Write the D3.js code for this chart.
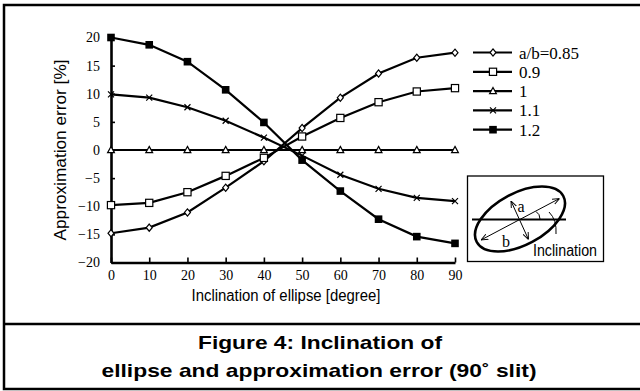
<!DOCTYPE html>
<html>
<head>
<meta charset="utf-8">
<script src="https://cdn.jsdelivr.net/npm/d3@7"></script>
<style>
  html, body { margin: 0; padding: 0; background: #fff; }
  svg { display: block; }
  .serif { font-family: "Liberation Serif", "Times New Roman", serif; }
  .narrow { font-family: "Liberation Sans", Arial, sans-serif; }
  .sans { font-family: "Liberation Sans", Arial, sans-serif; }
</style>
</head>
<body>
<svg id="chart" width="640" height="391"></svg>
<script>
// Inclination angle of the ellipse, degrees
const inclination = [0, 10, 20, 30, 40, 50, 60, 70, 80, 90];

// Approximation error [%] for each axis ratio a/b
const err085 = [-14.8, -13.8, -11.1, -6.7, -2.0, 3.9, 9.3, 13.6, 16.4, 17.3];
const err090 = [-9.8, -9.4, -7.5, -4.6, -1.4, 2.4, 5.7, 8.5, 10.4, 11.0];
const err100 = [0, 0, 0, 0, 0, 0, 0, 0, 0, 0];
const err110 = [9.9, 9.3, 7.6, 5.2, 2.2, -1.0, -4.4, -6.9, -8.5, -9.1];
const err120 = [20.0, 18.7, 15.7, 10.7, 4.9, -1.8, -7.3, -12.3, -15.4, -16.6];

const seriesNames = ["a/b=0.85", "0.9", "1", "1.1", "1.2"];
const seriesValues = [err085, err090, err100, err110, err120];
const seriesMarkers = ["diamond", "openSquare", "triangle", "x", "filledSquare"];

const yTicks = [-20, -15, -10, -5, 0, 5, 10, 15, 20];
const xTicks = [0, 10, 20, 30, 40, 50, 60, 70, 80, 90];

const svg = d3.select("#chart");

// Outer frame and caption divider
svg.append("path")
  .attr("d", "M645,5 H4 V389 H645")
  .attr("fill", "none").attr("stroke", "#000").attr("stroke-width", 2.5);
svg.append("line")
  .attr("x1", 4).attr("x2", 645).attr("y1", 324).attr("y2", 324)
  .attr("stroke", "#000").attr("stroke-width", 2.5);

// Scales
const x = d3.scaleLinear().domain([0, 90]).range([111, 455]);
const y = d3.scaleLinear().domain([-20, 20]).range([262.5, 37.5]);

// Axes with inward ticks
const yAxis = d3.axisLeft(y).tickValues(yTicks).tickSizeInner(-4).tickSizeOuter(0).tickPadding(11);
const xAxis = d3.axisBottom(x).tickValues(xTicks).tickSizeInner(-5).tickSizeOuter(0).tickPadding(8);

const gy = svg.append("g").attr("transform", `translate(${x(0)},0)`).call(yAxis);
const gx = svg.append("g").attr("transform", `translate(0,${y(-20)})`).call(xAxis);
[gx, gy].forEach(g => {
  g.attr("font-family", null).attr("font-size", null).attr("class", "serif");
  g.select(".domain").attr("stroke", "#000").attr("stroke-width", 2.6);
  g.selectAll(".tick line").attr("stroke", "#000").attr("stroke-width", 1.6);
  g.selectAll(".tick text").style("font-size", "14px").attr("fill", "#000");
});

// Axis titles (condensed)
svg.append("text").attr("class", "narrow")
  .attr("x", 286).attr("y", 301)
  .attr("text-anchor", "middle")
  .style("font-size", "16px")
  .attr("textLength", 189).attr("lengthAdjust", "spacingAndGlyphs")
  .text("Inclination of ellipse [degree]");
svg.append("text").attr("class", "narrow")
  .attr("transform", "translate(66,150) rotate(-90)")
  .attr("text-anchor", "middle")
  .style("font-size", "16px")
  .attr("textLength", 181).attr("lengthAdjust", "spacingAndGlyphs")
  .text("Approximation error [%]");

// Marker shapes
function drawMarker(sel, kind) {
  if (kind === "diamond") {
    sel.append("path").attr("d", "M0,-3.6 L3,0 L0,3.6 L-3,0 Z")
      .attr("fill", "#fff").attr("stroke", "#000").attr("stroke-width", 1.2);
  } else if (kind === "openSquare") {
    sel.append("rect").attr("x", -3.6).attr("y", -3.6).attr("width", 7.2).attr("height", 7.2)
      .attr("fill", "#fff").attr("stroke", "#000").attr("stroke-width", 1.2);
  } else if (kind === "triangle") {
    sel.append("path").attr("d", "M0,-3.6 L3.4,2.6 L-3.4,2.6 Z")
      .attr("fill", "#fff").attr("stroke", "#000").attr("stroke-width", 1.2);
  } else if (kind === "x") {
    sel.append("path").attr("d", "M-3,-3 L3,3 M-3,3 L3,-3")
      .attr("fill", "none").attr("stroke", "#000").attr("stroke-width", 1.2);
  } else if (kind === "filledSquare") {
    sel.append("rect").attr("x", -3.8).attr("y", -3.8).attr("width", 7.6).attr("height", 7.6)
      .attr("fill", "#000");
  }
}

// Series lines and markers
const line = d3.line().x((d, i) => x(inclination[i])).y(d => y(d));
seriesValues.forEach((vals, s) => {
  const g = svg.append("g");
  g.append("path").datum(vals).attr("d", line)
    .attr("fill", "none").attr("stroke", "#000").attr("stroke-width", 2.2);
  vals.forEach((v, i) => {
    const m = g.append("g").attr("transform", `translate(${x(inclination[i])},${y(v)})`);
    drawMarker(m, seriesMarkers[s]);
  });
});

// Legend
const legend = svg.append("g");
seriesNames.forEach((name, i) => {
  const cy = 52.5 + i * 19.3;
  const row = legend.append("g").attr("transform", `translate(0,${cy})`);
  row.append("line").attr("x1", 473).attr("x2", 512).attr("y1", 0).attr("y2", 0)
    .attr("stroke", "#000").attr("stroke-width", 2.2);
  drawMarker(row.append("g").attr("transform", "translate(493,0)"), seriesMarkers[i]);
  row.append("text").attr("class", "serif").attr("x", 519).attr("y", 6)
    .style("font-size", "17px").text(name);
});

// Inset sketch of the inclined ellipse
const inset = svg.append("g");
inset.append("rect").attr("x", 467.5).attr("y", 176).attr("width", 136).attr("height", 85.5)
  .attr("fill", "#fff").attr("stroke", "#000").attr("stroke-width", 1.3);

const defs = svg.append("defs");
defs.append("marker").attr("id", "arrowHead")
  .attr("viewBox", "0 0 10 10").attr("refX", 10).attr("refY", 5)
  .attr("markerWidth", 7).attr("markerHeight", 7)
  .attr("markerUnits", "userSpaceOnUse")
  .attr("orient", "auto-start-reverse")
  .append("path").attr("d", "M0,1 L10,5 L0,9").attr("fill", "none")
  .attr("stroke", "#000").attr("stroke-width", 1.4);

inset.append("ellipse").attr("cx", 520).attr("cy", 219).attr("rx", 49).attr("ry", 26)
  .attr("transform", "rotate(-28,520,219)")
  .attr("fill", "none").attr("stroke", "#000").attr("stroke-width", 2.6);
inset.append("line").attr("x1", 472).attr("x2", 566).attr("y1", 219.5).attr("y2", 219.5)
  .attr("stroke", "#000").attr("stroke-width", 2.2);
inset.append("line").attr("x1", 481).attr("y1", 240).attr("x2", 559.5).attr("y2", 198.5)
  .attr("stroke", "#000").attr("stroke-width", 1)
  .attr("marker-start", "url(#arrowHead)").attr("marker-end", "url(#arrowHead)");
inset.append("line").attr("x1", 511).attr("y1", 201).attr("x2", 528.5).attr("y2", 239.5)
  .attr("stroke", "#000").attr("stroke-width", 1)
  .attr("marker-start", "url(#arrowHead)").attr("marker-end", "url(#arrowHead)");
// Angle arc and leader line
inset.append("path").attr("d", "M536,211.5 Q540,214 540,219")
  .attr("fill", "none").attr("stroke", "#000").attr("stroke-width", 1);
inset.append("path").attr("d", "M549,212 Q557,220 556,234")
  .attr("fill", "none").attr("stroke", "#000").attr("stroke-width", 1);
inset.append("text").attr("class", "serif").attr("x", 521).attr("y", 212).attr("text-anchor", "middle")
  .style("font-size", "16px").text("a");
inset.append("text").attr("class", "serif").attr("x", 506).attr("y", 247).attr("text-anchor", "middle")
  .style("font-size", "16px").text("b");
inset.append("text").attr("class", "narrow").attr("x", 533).attr("y", 256)
  .style("font-size", "16px")
  .attr("textLength", 64).attr("lengthAdjust", "spacingAndGlyphs")
  .text("Inclination");

// Caption
svg.append("text").attr("class", "sans").attr("x", 320).attr("y", 348.5).attr("text-anchor", "middle")
  .style("font-weight", "bold").style("font-size", "19px")
  .attr("textLength", 244).attr("lengthAdjust", "spacingAndGlyphs")
  .text("Figure 4: Inclination of");
svg.append("text").attr("class", "sans").attr("x", 319).attr("y", 377).attr("text-anchor", "middle")
  .style("font-weight", "bold").style("font-size", "19px")
  .attr("textLength", 435).attr("lengthAdjust", "spacingAndGlyphs")
  .text("ellipse and approximation error (90˚ slit)");
</script>
</body>
</html>
